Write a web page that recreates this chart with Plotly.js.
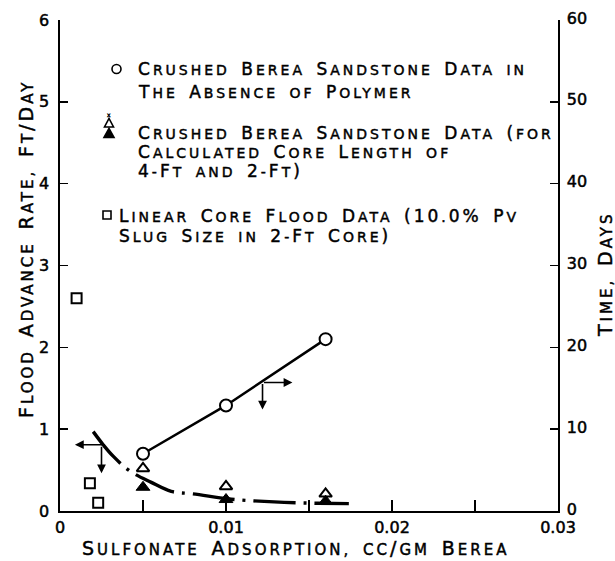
<!DOCTYPE html>
<html>
<head>
<meta charset="utf-8">
<script src="https://cdn.plot.ly/plotly-3.0.1.min.js"></script>
<style>
  html, body { margin: 0; padding: 0; background: #fff; }
  #chart { width: 615px; height: 561px; }
  text.annotation-text { letter-spacing: 3px; word-spacing: 4px; stroke: #000; stroke-width: 0.45px; }
  .xtick text, .ytick text, .y2tick text { stroke: #000; stroke-width: 0.5px; }
</style>
</head>
<body>
<div id="chart"></div>
<script>
// ---- data ----
const circleAdsorption = [0.005, 0.010, 0.016];
const circleTimeDays = [7.0, 12.9, 21.0];

const triAdsorption = [0.005, 0.010, 0.016];
const triOpenRate = [0.52, 0.30, 0.21];
const triFilledRate = [0.29, 0.14, 0.12];

const squareAdsorption = [0.0010, 0.0018, 0.0023];
const squareRate = [2.6, 0.34, 0.10];

const curveAdsorption = [0.0020, 0.0026, 0.0032, 0.0042, 0.0055, 0.0067, 0.0080, 0.0101, 0.0112, 0.0135, 0.0155, 0.0174];
const curveRate = [0.97, 0.81, 0.67, 0.49, 0.35, 0.24, 0.21, 0.15, 0.13, 0.105, 0.095, 0.09];

const xTickVals = [0, 0.005, 0.010, 0.015, 0.020, 0.025, 0.030];
const xTickText = ['0', '', '0.01', '', '0.02', '', '0.03'];
const leftTickVals = [0, 1, 2, 3, 4, 5, 6];
const rightTickVals = [0, 10, 20, 30, 40, 50, 60];

const legendCircle = ['Crushed Berea Sandstone Data in', 'The Absence of Polymer'];
const legendTriangle = ['Crushed Berea Sandstone Data (for', 'Calculated Core Length of', '4-Ft and 2-Ft)'];
const legendSquare = ['Linear Core Flood Data (10.0% Pv', 'Slug Size in 2-Ft Core)'];
const xTitle = 'Sulfonate Adsorption, cc/gm Berea';
const yTitle = 'Flood Advance Rate, Ft/Day';
const y2Title = 'Time, Days';

// ---- helpers ----
function smallCaps(s, big, small) {
  let out = '', cur = null, buf = '';
  for (const ch of s) {
    let size, c = ch;
    if (/[a-z]/.test(ch)) { size = small; c = ch.toUpperCase(); }
    else if (/[A-Z0-9()%\/]/.test(ch)) size = big;
    else size = small;
    if (size !== cur) {
      if (buf) out += '<span style="font-size:' + cur + 'px">' + buf + '</span>';
      buf = ''; cur = size;
    }
    buf += c;
  }
  if (buf) out += '<span style="font-size:' + cur + 'px">' + buf + '</span>';
  return out;
}

const FONT = 'DejaVu Sans, Verdana, sans-serif';
const W = 615, H = 561;
const M = { l: 60, r: 57, t: 20, b: 50 };
const pw = W - M.l - M.r, ph = H - M.t - M.b;
const px = x => (x - M.l) / pw;
const py = y => (H - M.b - y) / ph;

const traces = [
  {
    x: circleAdsorption, y: circleTimeDays, yaxis: 'y2',
    mode: 'lines+markers', type: 'scatter',
    line: { color: '#000', width: 2.5 },
    marker: { symbol: 'circle', size: 12, color: '#fff', line: { color: '#000', width: 2 } },
    cliponaxis: false
  },
  {
    x: curveAdsorption, y: curveRate,
    mode: 'lines', type: 'scatter',
    line: { color: '#000', width: 3.4, shape: 'spline', dash: '42px,8px,3px,8px' }
  },
  {
    x: triAdsorption, y: triOpenRate,
    mode: 'markers', type: 'scatter',
    marker: { symbol: 'triangle-up', size: 11, color: '#fff', line: { color: '#000', width: 2 } }
  },
  {
    x: triAdsorption, y: triFilledRate,
    mode: 'markers', type: 'scatter',
    marker: { symbol: 'triangle-up', size: 12, color: '#000', line: { color: '#000', width: 1 } }
  },
  {
    x: squareAdsorption, y: squareRate,
    mode: 'markers', type: 'scatter',
    marker: { symbol: 'square', size: 10, color: '#fff', line: { color: '#000', width: 2 } },
    cliponaxis: false
  }
];

const annotations = [];
function legendText(lines, x, y, size) {
  annotations.push({
    xref: 'paper', yref: 'paper', x: px(x), y: py(y),
    xanchor: 'left', yanchor: 'middle', align: 'left', showarrow: false,
    text: lines.map(t => smallCaps(t, 17, 14)).join('<br>'),
    font: { family: FONT, size: size, color: '#000' }
  });
}
legendText([legendCircle[0]], 136, 69, 14);
legendText([legendCircle[1]], 136, 92, 14);
legendText(legendTriangle, 136, 152, 14.5);
legendText(legendSquare, 117, 226, 15);
// small mark above the legend triangle
annotations.push({
  xref: 'paper', yref: 'paper', x: px(110), y: py(114), xanchor: 'center', yanchor: 'middle',
  showarrow: false, text: 'x', font: { family: FONT, size: 6, color: '#000' }
});
// axis titles
annotations.push({
  xref: 'paper', yref: 'paper', x: px(295), y: py(548), xanchor: 'center', yanchor: 'middle',
  showarrow: false, text: smallCaps(xTitle, 19, 15), font: { family: FONT, size: 15, color: '#000' }
});
annotations.push({
  xref: 'paper', yref: 'paper', x: px(26), y: py(249), xanchor: 'center', yanchor: 'middle',
  textangle: -90, showarrow: false, text: smallCaps(yTitle, 19, 15), font: { family: FONT, size: 15, color: '#000' }
});
annotations.push({
  xref: 'paper', yref: 'paper', x: px(605), y: py(275), xanchor: 'center', yanchor: 'middle',
  textangle: -90, showarrow: false, text: smallCaps(y2Title, 19, 15), font: { family: FONT, size: 15, color: '#000' }
});
// arrows
const arrowBase = { xref: 'x', yref: 'y', text: '', showarrow: true, arrowhead: 2, arrowsize: 1.1,
  arrowwidth: 1.6, arrowcolor: '#000', standoff: 0, startstandoff: 0 };
annotations.push(Object.assign({}, arrowBase, { x: 0.0009, y: 0.81, ax: 29, ay: 0 }));
annotations.push(Object.assign({}, arrowBase, { x: 0.0025, y: 0.46, ax: 0, ay: -28 }));
annotations.push(Object.assign({}, arrowBase, { x: 0.0140, y: 1.57, ax: -30, ay: 0 }));
annotations.push(Object.assign({}, arrowBase, { x: 0.0122, y: 1.24, ax: 0, ay: -27 }));

// legend symbols drawn as pixel-sized shapes
function pxShape(type, cx, cy, extra) {
  return Object.assign({
    type: type, xref: 'paper', yref: 'paper', xsizemode: 'pixel', ysizemode: 'pixel',
    xanchor: px(cx), yanchor: py(cy), line: { color: '#000', width: 1.6 }
  }, extra);
}
const shapes = [
  pxShape('circle', 116.5, 69, { x0: -4.5, x1: 4.5, y0: -4.5, y1: 4.5 }),
  pxShape('path', 109, 123, { path: 'M -4.5 -4 L 4.5 -4 L 0 4.5 Z' }),
  pxShape('path', 109, 133, { path: 'M -5 -4.5 L 5 -4.5 L 0 4.5 Z', fillcolor: '#000' }),
  pxShape('rect', 107, 215, { x0: -4, x1: 4, y0: -4, y1: 4 })
];

const axisCommon = {
  showgrid: false, zeroline: false, showline: true, linecolor: '#000',
  ticks: 'inside', tickcolor: '#000', tickfont: { family: FONT, size: 16, color: '#000' }
};

const layout = {
  width: W, height: H, margin: M, showlegend: false,
  paper_bgcolor: '#fff', plot_bgcolor: '#fff',
  xaxis: Object.assign({}, axisCommon, {
    range: [0, 0.03], tickmode: 'array', tickvals: xTickVals, ticktext: xTickText,
    ticklen: 11, tickwidth: 1.5, linewidth: 2.2, ticklabelstandoff: 1
  }),
  yaxis: Object.assign({}, axisCommon, {
    range: [0, 6], tickmode: 'array', tickvals: leftTickVals,
    ticklen: 8, tickwidth: 1.5, linewidth: 1.6, ticklabelstandoff: 6
  }),
  yaxis2: Object.assign({}, axisCommon, {
    range: [0, 60], tickmode: 'array', tickvals: rightTickVals, overlaying: 'y', side: 'right',
    ticklen: 8, tickwidth: 1.5, linewidth: 1.6, ticklabelstandoff: 4, ticklabelshift: -2
  }),
  annotations: annotations,
  shapes: shapes
};

Plotly.newPlot('chart', traces, layout, { staticPlot: true, displayModeBar: false });
</script>
</body>
</html>
